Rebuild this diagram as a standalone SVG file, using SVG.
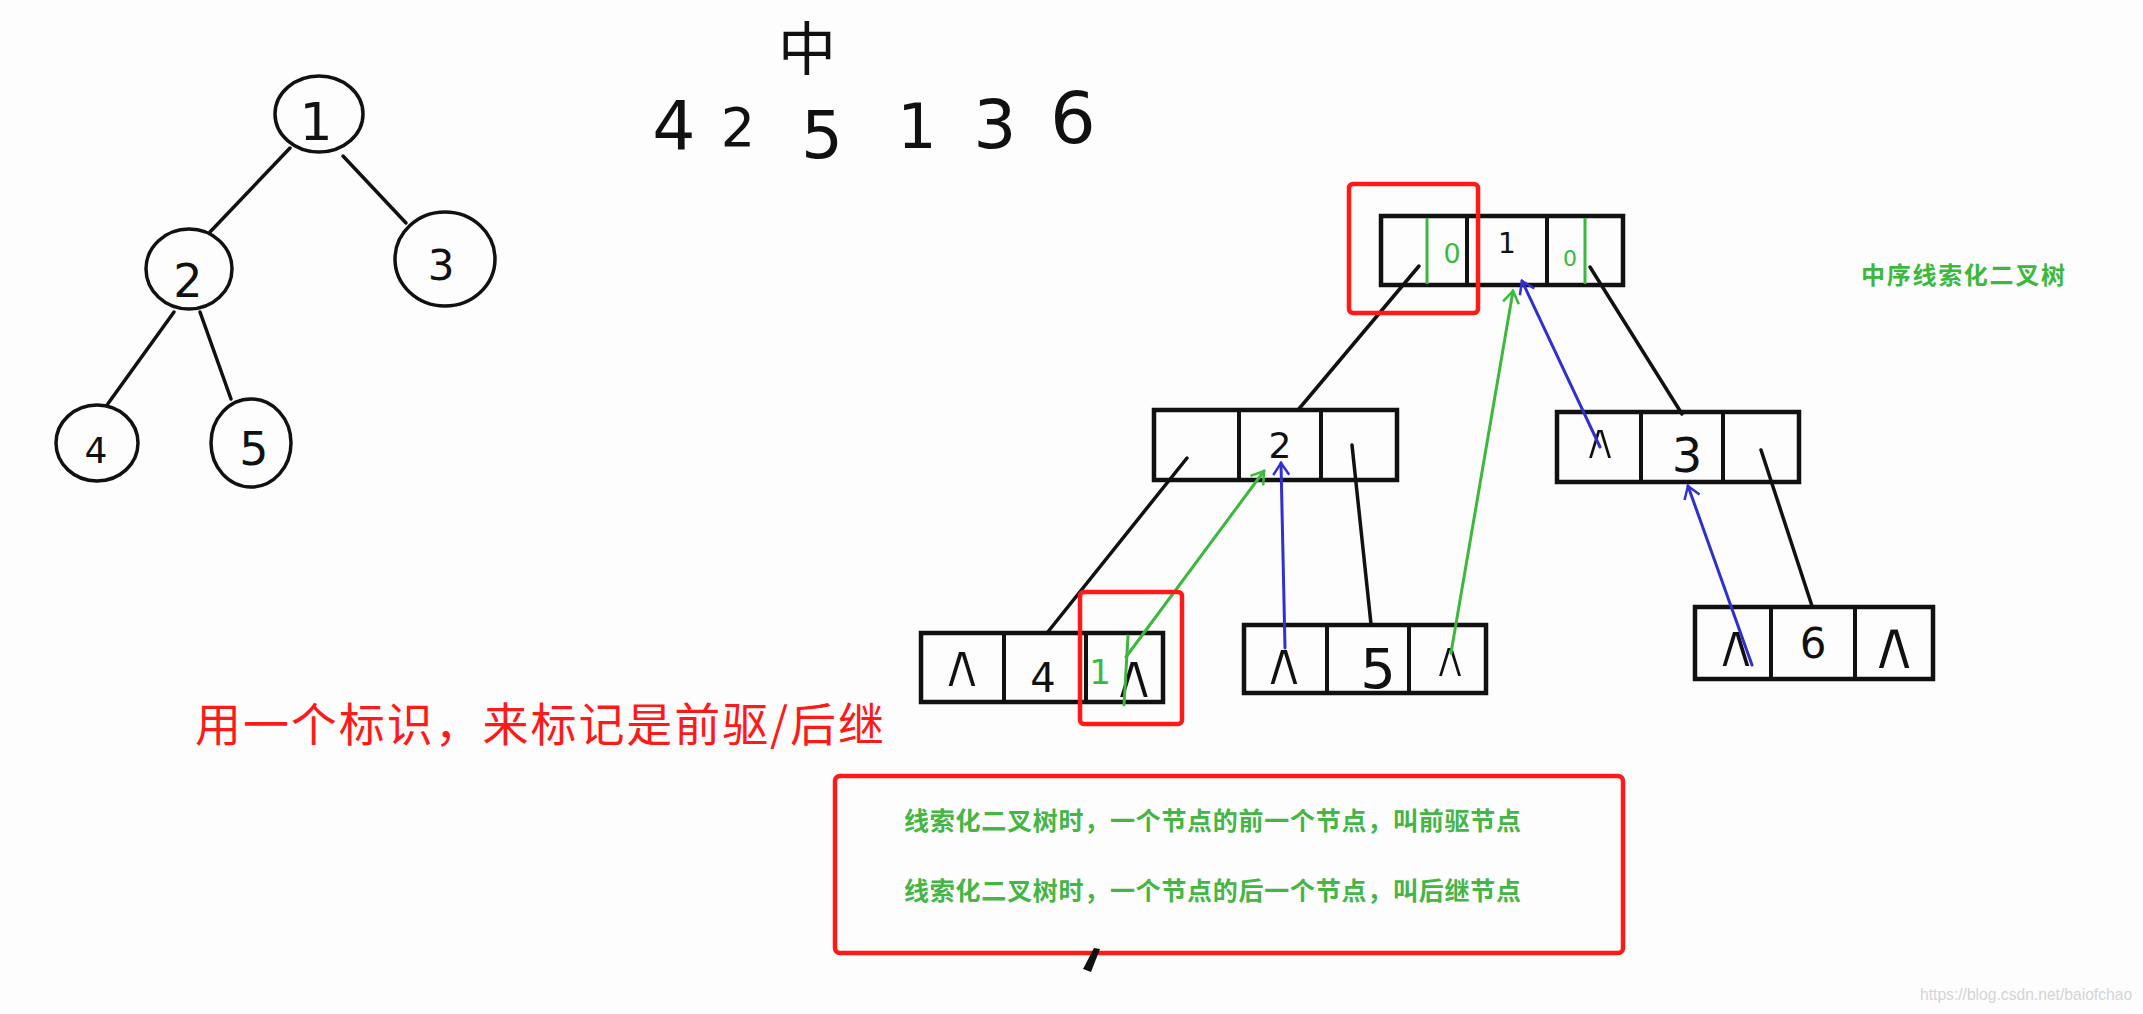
<svg xmlns="http://www.w3.org/2000/svg" width="2143" height="1014" viewBox="0 0 2143 1014">
<style>
.circ{fill:none;stroke:#111;stroke-width:3.5}
.edge{stroke:#111;stroke-width:3.5;stroke-linecap:round;fill:none}
.box{fill:none;stroke:#111;stroke-width:4.5}
.div{stroke:#111;stroke-width:4}
.hd{font-family:"DejaVu Sans","Liberation Sans",sans-serif;fill:#111;text-anchor:middle}
.nil{font-family:"DejaVu Sans",sans-serif;fill:#111;stroke:#fdfdfd;stroke-width:2;text-anchor:middle;font-size:62px}
.gmark{stroke:#3cb83c;stroke-width:3}
.gtxt{font-family:"DejaVu Sans",sans-serif;fill:#3cb83c;text-anchor:middle}
.gth{stroke:#3cb83c;stroke-width:3;fill:none;stroke-linecap:round}
.bth{stroke:#3030d0;stroke-width:3;fill:none;stroke-linecap:round}
.redbox{fill:none;stroke:#ff1a1a;stroke-width:4.5}
.cjk{font-family:"Noto Sans CJK SC",sans-serif}
</style>
<defs>
<marker id="ag" markerUnits="userSpaceOnUse" viewBox="-14 -9 16 18" markerWidth="16" markerHeight="18" refX="0" refY="0" orient="auto">
<path d="M -12 -8 L 0 0 L -12 8" fill="none" stroke="#3cb83c" stroke-width="2.5"/>
</marker>
<marker id="ab" markerUnits="userSpaceOnUse" viewBox="-14 -9 16 18" markerWidth="16" markerHeight="18" refX="0" refY="0" orient="auto">
<path d="M -12 -8 L 0 0 L -12 8" fill="none" stroke="#3030d0" stroke-width="2.5"/>
</marker>
</defs>
<rect x="0" y="0" width="2143" height="1014" fill="#fdfdfd"/>

<!-- left tree connectors -->
<g id="tree-edges">
<line class="edge" x1="290" y1="148" x2="210" y2="232"/>
<line class="edge" x1="343" y1="156" x2="406" y2="223"/>
<line class="edge" x1="174" y1="312" x2="107" y2="405"/>
<line class="edge" x1="200" y1="312" x2="231" y2="399"/>
</g>
<g id="t1"><ellipse class="circ" cx="319" cy="114" rx="44" ry="38"/><text class="hd" x="316" y="140" font-size="52">1</text></g>
<g id="t2"><ellipse class="circ" cx="189" cy="269" rx="43" ry="40"/><text class="hd" x="188" y="297" font-size="46">2</text></g>
<g id="t3"><ellipse class="circ" cx="445" cy="259" rx="50" ry="47"/><text class="hd" x="441" y="280" font-size="42">3</text></g>
<g id="t4"><ellipse class="circ" cx="97" cy="443" rx="41" ry="38"/><text class="hd" x="96" y="463" font-size="36">4</text></g>
<g id="t5"><ellipse class="circ" cx="251" cy="443" rx="40" ry="44"/><text class="hd" x="254" y="465" font-size="46">5</text></g>

<!-- in-order sequence -->
<g id="sequence">
<text class="cjk" x="807" y="70" font-size="58" text-anchor="middle" fill="#111">中</text>
<text class="hd" x="674" y="150" font-size="68">4</text>
<text class="hd" x="738" y="146" font-size="54">2</text>
<text class="hd" x="822" y="158" font-size="66">5</text>
<text class="hd" x="917" y="148" font-size="62">1</text>
<text class="hd" x="995" y="148" font-size="68">3</text>
<text class="hd" x="1073" y="143" font-size="72">6</text>
</g>

<g id="n1">
<rect class="box" x="1381" y="216" width="242" height="69"/>
<line class="div" x1="1467" y1="216" x2="1467" y2="285"/>
<line class="div" x1="1547" y1="216" x2="1547" y2="285"/>
<line class="gmark" x1="1427" y1="218" x2="1427" y2="284"/>
<line class="gmark" x1="1585" y1="218" x2="1585" y2="284"/>
<text class="gtxt" x="1452" y="263" font-size="27">0</text>
<text class="gtxt" x="1570" y="266" font-size="22">0</text>
<text class="hd" x="1507" y="253" font-size="28">1</text>
</g>
<g id="n2">
<rect class="box" x="1154" y="410" width="243" height="70"/>
<line class="div" x1="1239" y1="410" x2="1239" y2="480"/>
<line class="div" x1="1321" y1="410" x2="1321" y2="480"/>
<text class="hd" x="1280" y="458" font-size="36">2</text>
</g>
<g id="n3">
<rect class="box" x="1557" y="412" width="242" height="70"/>
<line class="div" x1="1641" y1="412" x2="1641" y2="482"/>
<line class="div" x1="1723" y1="412" x2="1723" y2="482"/>
<text class="nil" x="1600" y="459" style="font-size:52px">∧</text>
<text class="hd" x="1687" y="472" font-size="48">3</text>
</g>
<g id="n4">
<rect class="box" x="921" y="633" width="242" height="69"/>
<line class="div" x1="1004" y1="633" x2="1004" y2="702"/>
<line class="div" x1="1086" y1="633" x2="1086" y2="702"/>
<text class="nil" x="962" y="687">∧</text>
<text class="hd" x="1043" y="692" font-size="40">4</text>
<text class="gtxt" x="1100" y="684" font-size="34">1</text>
<text class="nil" x="1134" y="698" style="font-size:64px">∧</text>
</g>
<g id="n5">
<rect class="box" x="1244" y="625" width="242" height="68"/>
<line class="div" x1="1327" y1="625" x2="1327" y2="693"/>
<line class="div" x1="1409" y1="625" x2="1409" y2="693"/>
<text class="nil" x="1284" y="685">∧</text>
<text class="hd" x="1378" y="688" font-size="56">5</text>
<text class="nil" x="1450" y="677" style="font-size:52px">∧</text>
</g>
<g id="n6">
<rect class="box" x="1695" y="607" width="238" height="72"/>
<line class="div" x1="1771" y1="607" x2="1771" y2="679"/>
<line class="div" x1="1855" y1="607" x2="1855" y2="679"/>
<text class="nil" x="1736" y="667">∧</text>
<text class="hd" x="1813" y="658" font-size="42">6</text>
<text class="nil" x="1894" y="669" style="font-size:70px">∧</text>
</g>

<!-- threaded tree connectors -->
<g id="connectors">
<line class="edge" x1="1419" y1="266" x2="1298" y2="410"/>
<line class="edge" x1="1590" y1="267" x2="1682" y2="414"/>
<line class="edge" x1="1187" y1="458" x2="1047" y2="633"/>
<line class="edge" x1="1352" y1="445" x2="1371" y2="624"/>
<line class="edge" x1="1761" y1="450" x2="1812" y2="606"/>
<line class="gth" x1="1128" y1="636" x2="1124" y2="705"/>
<line class="gth" x1="1126" y1="657" x2="1264" y2="471" marker-end="url(#ag)"/>
<line class="gth" x1="1451" y1="653" x2="1513" y2="291" marker-end="url(#ag)"/>
<line class="bth" x1="1285" y1="648" x2="1281" y2="463" marker-end="url(#ab)"/>
<line class="bth" x1="1600" y1="447" x2="1522" y2="281" marker-end="url(#ab)"/>
<line class="bth" x1="1752" y1="665" x2="1688" y2="486" marker-end="url(#ab)"/>
</g>

<g id="highlights">
<rect class="redbox" x="1349" y="184" width="129" height="129" rx="4"/>
<rect class="redbox" x="1080" y="592" width="102" height="132" rx="4"/>
</g>

<text id="title" class="cjk" x="1861" y="284" font-size="24" font-weight="bold" fill="#3cb83c" textLength="204" lengthAdjust="spacing">中序线索化二叉树</text>

<text id="note" class="cjk" x="195" y="741" font-size="46" fill="#ff1a1a" textLength="689" lengthAdjust="spacing">用一个标识，来标记是前驱/后继</text>

<g id="definitions">
<rect class="redbox" x="835" y="776" width="788" height="177" rx="5"/>
<text class="cjk" x="904" y="830" font-size="25" font-weight="bold" fill="#45b545" textLength="617" lengthAdjust="spacing">线索化二叉树时，一个节点的前一个节点，叫前驱节点</text>
<text class="cjk" x="904" y="900" font-size="25" font-weight="bold" fill="#45b545" textLength="617" lengthAdjust="spacing">线索化二叉树时，一个节点的后一个节点，叫后继节点</text>
</g>

<polygon id="cursor" points="1094,948 1100,949 1091,972 1083,969" fill="#111"/>

<text id="watermark" transform="translate(1920,1000) scale(0.92,1)" x="0" y="0" font-family="Liberation Sans, sans-serif" font-size="17" fill="#d4d4d4">https://blog.csdn.net/baiofchao</text>
</svg>
